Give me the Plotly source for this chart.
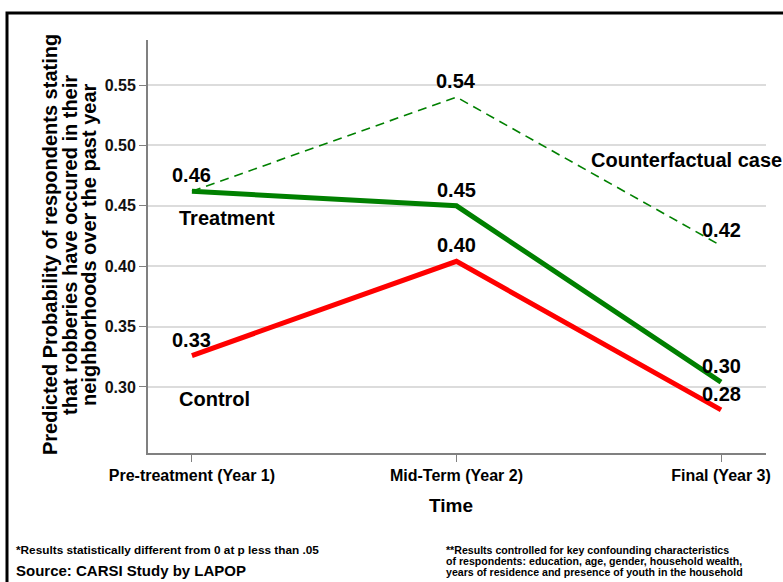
import plotly.graph_objects as go

periods = ["Pre-treatment (Year 1)", "Mid-Term (Year 2)", "Final (Year 3)"]
treatment = [0.462, 0.450, 0.304]
control = [0.326, 0.404, 0.281]
counterfactual = [0.462, 0.540, 0.417]
y_ticks = [0.30, 0.35, 0.40, 0.45, 0.50, 0.55]

y_title = ["Predicted Probability of respondents stating",
           "that robberies have occured in their",
           "neighborhoods over the past year"]
note_left = "*Results statistically different from 0 at p less than .05"
source = "Source: CARSI Study by LAPOP"
note_right = ["**Results controlled for key confounding characteristics",
              "of respondents: education, age, gender, household wealth,",
              "years of residence and presence of youth in the household"]

FONT = "Liberation Sans, Arial, sans-serif"
xs = list(range(len(periods)))

# pixel helpers for paper-referenced text (plot area: x 148..766, y 40..453)
def px(x):
    return (x - 148) / 618

def py(y):
    return (453 - y) / 413

def bold(t):
    return "<b>" + t + "</b>"

fig = go.Figure()
fig.add_trace(go.Scatter(x=xs, y=counterfactual, mode="lines",
                         line=dict(color="#008000", width=1.6, dash="9px,6px")))
fig.add_trace(go.Scatter(x=xs, y=treatment, mode="lines",
                         line=dict(color="#008000", width=5)))
fig.add_trace(go.Scatter(x=xs, y=control, mode="lines",
                         line=dict(color="#ff0000", width=5)))

anns = []
# value labels above each point
for series, idx in [(treatment, [0, 1, 2]), (control, [0, 1, 2]), (counterfactual, [1, 2])]:
    for i in idx:
        anns.append(dict(x=xs[i], y=series[i], text=bold("%.2f" % series[i]),
                         showarrow=False, yshift=16, yanchor="middle",
                         font=dict(family=FONT, size=20, color="black")))

for txt, x, y in [("Treatment", -0.056, 0.440), ("Control", -0.056, 0.290),
                  ("Counterfactual case", 1.501, 0.488)]:
    anns.append(dict(x=x, y=y, text=bold(txt), xanchor="left", yanchor="middle",
                     showarrow=False, font=dict(family=FONT, size=20, color="black")))

for k, line in enumerate(y_title):
    anns.append(dict(xref="paper", yref="paper", x=px([50, 70, 89][k]), y=py(245),
                     text=bold(line), textangle=-90, showarrow=False,
                     xanchor="center", yanchor="middle",
                     font=dict(family=FONT, size=20, color="black")))

anns.append(dict(xref="paper", yref="paper", x=px(451), y=py(505), text=bold("Time"),
                 showarrow=False, xanchor="center", yanchor="middle",
                 font=dict(family=FONT, size=19, color="black")))
anns.append(dict(xref="paper", yref="paper", x=px(14), y=py(550), text=bold(note_left),
                 showarrow=False, xanchor="left", yanchor="middle",
                 font=dict(family=FONT, size=11.8, color="black")))
anns.append(dict(xref="paper", yref="paper", x=px(14), y=py(570), text=bold(source),
                 showarrow=False, xanchor="left", yanchor="middle",
                 font=dict(family=FONT, size=15, color="black")))
for k, line in enumerate(note_right):
    anns.append(dict(xref="paper", yref="paper", x=px(444), y=py(550 + 11.2 * k),
                     text=bold(line), showarrow=False, xanchor="left", yanchor="middle",
                     font=dict(family=FONT, size=10.6, color="black")))

fig.update_layout(
    width=783, height=582,
    margin=dict(l=148, r=17, t=40, b=129),
    paper_bgcolor="white", plot_bgcolor="white",
    showlegend=False,
    annotations=anns,
    shapes=[dict(type="rect", xref="paper", yref="paper",
                 x0=px(7), x1=1.1, y0=-0.5, y1=py(13),
                 line=dict(color="black", width=3), fillcolor="rgba(0,0,0,0)", layer="below")],
    xaxis=dict(range=[-0.166, 2.170], tickvals=xs,
               ticktext=[bold(p) for p in periods],
               showline=True, linecolor="#808080", linewidth=2,
               ticks="outside", ticklen=7, tickcolor="#808080", tickwidth=1,
               showgrid=False, zeroline=False,
               tickfont=dict(family=FONT, size=16, color="black")),
    yaxis=dict(range=[0.2453, 0.5873], tickvals=y_ticks,
               ticktext=[bold("%.2f" % v) for v in y_ticks],
               showline=True, linecolor="#808080", linewidth=2,
               ticks="outside", ticklen=7, tickcolor="#808080", tickwidth=1,
               showgrid=True, gridcolor="#dcdcdc", gridwidth=1.5, zeroline=False,
               tickfont=dict(family=FONT, size=16, color="#111111")),
)

fig.write_html("out.html", config={"displayModeBar": False},
               post_script="document.body.style.margin='0';")
